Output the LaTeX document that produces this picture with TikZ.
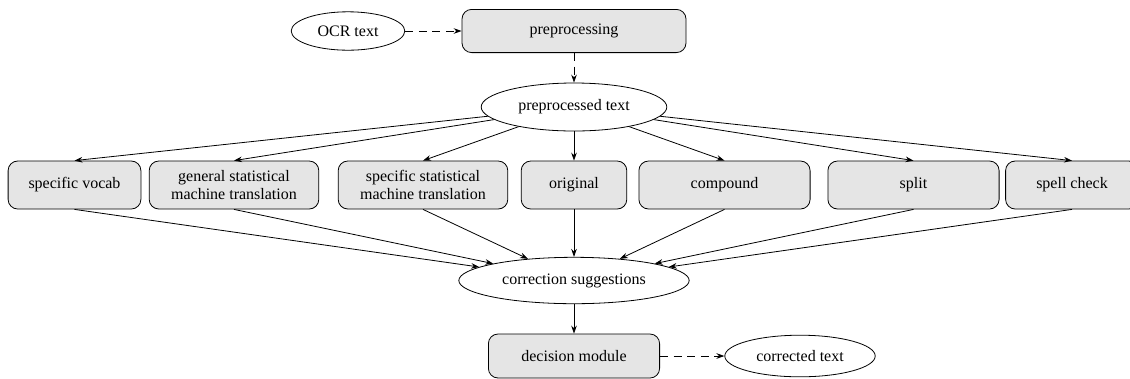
\documentclass[tikz,border=0pt]{standalone}
\usepackage{fontspec}
\setmainfont{Liberation Serif}
\usetikzlibrary{shapes.geometric, arrows.meta}
\begin{document}
\begin{tikzpicture}[x=0.625pt, y=-0.625pt, font=\fontsize{10}{11.5}\selectfont, line width=0.5pt,
    >={Stealth[length=5pt, width=3.5pt]},
    box/.style={draw, rounded corners=6pt, fill=gray!20, minimum height=30pt, align=center, inner sep=2pt},
    blob/.style={draw, ellipse, inner sep=0pt},
    dashy/.style={->, dash pattern=on 5pt off 3.5pt}]
      \useasboundingbox (0,0) rectangle (1130,378);

      \node[blob, minimum width=71pt, minimum height=24pt] (ocr) at (348,31) {OCR text};
      \node[box, minimum width=140pt, minimum height=27pt] (prep) at (574,31) {preprocessing};
      \node[blob, minimum width=116pt, minimum height=30pt] (ptext) at (574,107) {preprocessed text};

      \node[box, minimum width=83pt] (vocab) at (74.5,185) {specific vocab};
      \node[box, minimum width=106pt] (gsmt) at (234,185) {general statistical\\machine translation};
      \node[box, minimum width=106pt] (ssmt) at (423,185) {specific statistical\\machine translation};
      \node[box, minimum width=66pt] (orig) at (574,185) {original};
      \node[box, minimum width=107pt] (comp) at (724.5,185) {compound};
      \node[box, minimum width=107pt] (split) at (913.5,185) {split};
      \node[box, minimum width=83pt] (spell) at (1072,185) {spell check};

      \node[blob, minimum width=144pt, minimum height=29pt] (sugg) at (574,280.5) {correction suggestions};
      \node[box, minimum width=107pt, minimum height=27.5pt] (decide) at (574,356) {decision module};
      \node[blob, minimum width=94pt, minimum height=26pt] (out) at (800,356) {corrected text};

      \draw[dashy] (ocr) -- (prep);
      \draw[dashy] (prep) -- (ptext);
      \path[->] (ptext) edge (vocab.north) edge (gsmt.north) edge (ssmt.north) edge (orig.north)
                        edge (comp.north) edge (split.north) edge (spell.north);
      \path[->] (vocab.south) edge (sugg) (gsmt.south) edge (sugg) (ssmt.south) edge (sugg)
                (orig.south) edge (sugg) (comp.south) edge (sugg) (split.south) edge (sugg)
                (spell.south) edge (sugg);
      \draw[->] (sugg) -- (decide);
      \draw[dashy] (decide) -- (out);
    \end{tikzpicture}
\end{document}
